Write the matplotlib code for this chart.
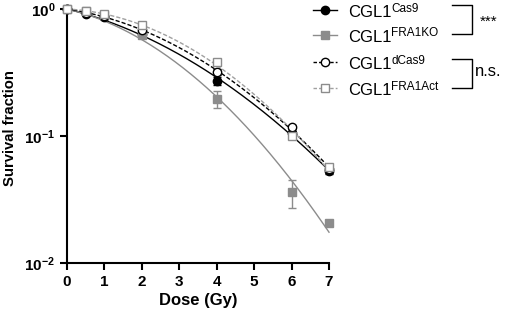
import numpy as np
import matplotlib.pyplot as plt

plt.rcParams['font.family'] = ['Liberation Sans', 'DejaVu Sans']
plt.rcParams['mathtext.fontset'] = 'custom'
plt.rcParams['mathtext.rm'] = 'Liberation Sans'
plt.rcParams['mathtext.bf'] = 'Liberation Sans:bold'

# data
dose = [0, 0.5, 1, 2, 4, 6, 7]
cas9 = [1.0, 0.92, 0.87, 0.63, 0.27, 0.105, 0.053]
cas9_err = [0, 0.02, 0.04, 0.04, 0.02, 0.005, 0.003]
ko = [1.0, 0.97, 0.90, 0.62, 0.197, 0.036, 0.0205]
ko_err = [0, 0.02, 0.03, 0.03, 0.03, 0.009, 0.001]
dcas9 = [1.0, 0.93, 0.88, 0.68, 0.32, 0.118, 0.055]
dcas9_err = [0, 0.02, 0.03, 0.03, 0.02, 0.005, 0.003]
act = [1.0, 0.97, 0.92, 0.75, 0.38, 0.10, 0.057]
act_err = [0, 0.02, 0.03, 0.03, 0.02, 0.005, 0.003]

base_name = 'CGL1'
sup_names = ['Cas9', 'FRA1KO', 'dCas9', 'FRA1Act']
series = [cas9, ko, dcas9, act]
errs = [cas9_err, ko_err, dcas9_err, act_err]
styles = [
    dict(ls='-', marker='o', mfc='black', mec='black'),
    dict(ls='-', marker='s', mfc='#8c8c8c', mec='#8c8c8c'),
    dict(ls='--', marker='o', mfc='white', mec='black'),
    dict(ls='--', marker='s', mfc='white', mec='#8c8c8c'),
]
line_colors = ['black', '#8c8c8c', 'black', '#a0a0a0']

fig = plt.figure(figsize=(5.05, 3.16), dpi=100)
ax = fig.add_axes([67 / 505, 1 - 263 / 316, (329 - 67) / 505, (263 - 9) / 316])

x = np.array(dose)
xx = np.linspace(0, 7, 200)
for y, e, st, lc in zip(series, errs, styles, line_colors):
    # linear-quadratic fit: ln S = -a D - b D^2
    A = np.vstack([-x, -x ** 2]).T
    a, b = np.linalg.lstsq(A, np.log(y), rcond=None)[0]
    ax.plot(xx, np.exp(-a * xx - b * xx ** 2), color=lc, lw=1.0,
            dashes=(3, 1.5) if st['ls'] == '--' else (None, None), zorder=2)
    ax.errorbar(x, y, yerr=e, fmt='none', ecolor=st['mec'], elinewidth=1.0,
                capsize=3, capthick=1.0, zorder=3)
    ax.plot(x, y, ls='none', marker=st['marker'], ms=6, mfc=st['mfc'],
            mec=st['mec'], mew=1.0, zorder=4)

ax.set_yscale('log')
ax.set_ylim(0.01, 1.0)
ax.set_xlim(0, 7)
ax.set_xticks(range(8))
ax.set_yticks([0.01, 0.1, 1])
ax.set_yticklabels(['$\\mathbf{10^{-2}}$', '$\\mathbf{10^{-1}}$', '$\\mathbf{10^{0}}$'])
ax.minorticks_off()
for s in ['top', 'right']:
    ax.spines[s].set_visible(False)
for s in ['left', 'bottom']:
    ax.spines[s].set_linewidth(1.5)
ax.tick_params(width=1.5, length=5, labelsize=11)
for lab in ax.get_xticklabels():
    lab.set_fontweight('bold')
ax.set_xlabel('Dose (Gy)', fontsize=12, fontweight='bold', labelpad=3)
fig.text(10 / 505, 1 - 128.5 / 316, 'Survival fraction', fontsize=10.75,
         fontweight='bold', rotation=90, ha='center', va='center')
for art in ax.lines + ax.collections:
    art.set_clip_on(False)

# legend drawn by hand in figure pixels
rows_y = [10, 35, 62, 88]
for ry, sup, st, lc in zip(rows_y, sup_names, styles, line_colors):
    fy = 1 - ry / 316
    fig.add_artist(plt.Line2D([313 / 505, 337 / 505], [fy, fy], color=lc, lw=1.0,
                              dashes=(2.5, 1.5) if st['ls'] == '--' else (None, None),
                              transform=fig.transFigure))
    fig.add_artist(plt.Line2D([325 / 505], [fy], marker=st['marker'], ms=6,
                              mfc=st['mfc'], mec=st['mec'], mew=1.0, ls='none',
                              transform=fig.transFigure))
    fig.text(348 / 505, 1 - (ry + 7) / 316, base_name, fontsize=12,
             va='baseline', ha='left')
    fig.text(391 / 505, 1 - (ry + 1.5) / 316, sup, fontsize=8.5,
             va='baseline', ha='left')

for (y0, y1), lab, fs, lx, lb in [((5, 34), '***', 11, 480, 26),
                                  ((59, 88), 'n.s.', 12, 475, 76)]:
    xs = [452 / 505, 472 / 505, 472 / 505, 452 / 505]
    ys = [1 - y0 / 316, 1 - y0 / 316, 1 - y1 / 316, 1 - y1 / 316]
    fig.add_artist(plt.Line2D(xs, ys, color='black', lw=1.0, transform=fig.transFigure))
    fig.text(lx / 505, 1 - lb / 316, lab, fontsize=fs, va='baseline', ha='left')

fig.savefig('out.png', dpi=100)
